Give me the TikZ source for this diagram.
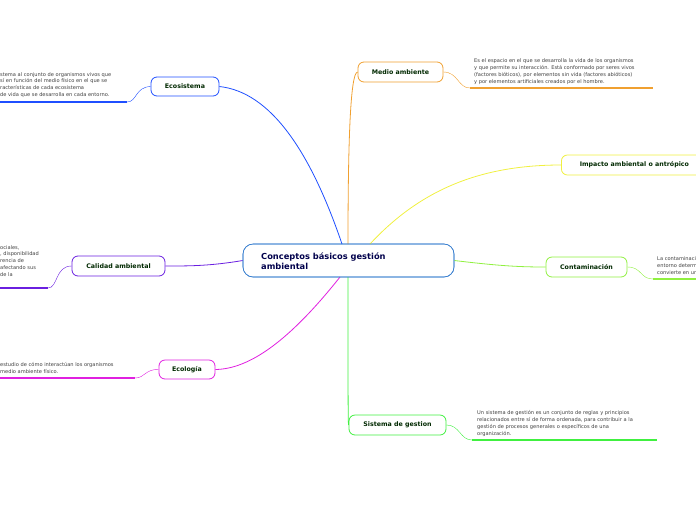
\documentclass[tikz,border=0pt]{standalone}
\usepackage{fontspec}
\setmainfont{DejaVu Sans}
\begin{document}
\begin{tikzpicture}[x=1pt,y=-1pt,
  topic/.style={draw=#1,line width=0.8pt,rounded corners=6pt,fill=white,font=\fontsize{6.3}{7}\selectfont\bfseries,text=black!60!green!40!black,inner sep=0pt},
  desc/.style={anchor=north west,align=left,font=\fontsize{5.1}{6.9}\selectfont,text=black!75,inner sep=0pt},
  conn/.style={draw=#1,line width=0.8pt},
  thin/.style={draw=#1,line width=0.4pt}]
\useasboundingbox (0,0) rectangle (696,520);
\clip (0,0) rectangle (696,520);
\definecolor{cblue}{HTML}{1F4FFF}
\definecolor{cpurp}{HTML}{6A1FE0}
\definecolor{cmag}{HTML}{E020E0}
\definecolor{corg}{HTML}{F0A030}
\definecolor{cyel}{HTML}{F0F040}
\definecolor{cyg}{HTML}{90F040}
\definecolor{cgrn}{HTML}{40F040}
\definecolor{cctr}{HTML}{3A80D0}
% center
\node[draw=cctr,line width=0.6pt,rounded corners=10pt,minimum width=211pt,minimum height=33pt,fill=white,inner sep=0pt] (c) at (348.5,260.5) {};
\node[anchor=west,align=left,font=\fontsize{8.3}{10}\selectfont\bfseries,text=blue!30!black,inner sep=0pt] (ct) at (261,261) {Conceptos básicos gestión\\ambiental};
% topics
\node[topic=cblue,minimum width=68pt,minimum height=19pt] (eco) at (185,86.5) {Ecosistema};
\node[topic=cpurp,minimum width=93pt,minimum height=20pt] (cal) at (118.5,266) {Calidad ambiental};
\node[topic=cmag,minimum width=56pt,minimum height=19pt] (ecl) at (187,369.5) {Ecología};
\node[topic=corg,minimum width=85pt,minimum height=20pt] (med) at (400.5,72) {Medio ambiente};
\node[topic=cyel,minimum width=150pt,minimum height=20pt,anchor=west] (imp) at (561,165) {\hspace*{-4pt}Impacto ambiental o antrópico\hfill};
\node[topic=cyg,minimum width=81pt,minimum height=20pt] (con) at (586.5,267) {Contaminación};
\node[topic=cgrn,minimum width=97pt,minimum height=20pt] (sis) at (397.5,425) {Sistema de gestion};
% main connectors
\draw[conn=cblue] (342,244) .. controls (310,150) and (270,92) .. (eco.east);
\draw[conn=corg] (348,244) .. controls (348,150) and (350,72) .. (med.west);
\draw[conn=cyel] (370,244) .. controls (420,190) and (480,165) .. (imp.west);
\draw[conn=cyg] (c.east) .. controls (500,266) and (520,267) .. (con.west);
\draw[conn=cgrn] (348,277) .. controls (348,380) and (348,425) .. (sis.west);
\draw[conn=cpurp] (c.west) .. controls (210,266) and (190,266) .. (cal.east);
\draw[conn=cmag] (340,277) .. controls (290,340) and (250,369) .. (ecl.east);
\node[draw=cctr,line width=0.6pt,rounded corners=10pt,minimum width=211pt,minimum height=33pt,inner sep=0pt] (c2) at (348.5,260.5) {};
% descriptions
\coordinate (e1) at (127,102);
\draw[thin=cblue] (eco.west) .. controls (135,87) and (137,102) .. (e1);
\draw[line width=1.4pt,cblue] (0,102) -- (e1);
\node[desc] (et) at (0,72) {stema al conjunto de organismos vivos que\\ sí en función del medio físico en el que se\\racterísticas de cada ecosistema\\ de vida que se desarrolla en cada entorno.};
\coordinate (m1) at (470,88);
\draw[thin=corg] (med.east) .. controls (458,72) and (458,88) .. (m1);
\draw[line width=1.4pt,corg] (m1) -- (653,88);
\node[desc] (mt) at (474,58.5) {Es el espacio en el que se desarrolla la vida de los organismos\\y que permite su interacción. Está conformado por seres vivos\\(factores bióticos), por elementos sin vida (factores abióticos)\\y por elementos artificiales creados por el hombre.};
\coordinate (k1) at (653,279);
\draw[thin=cyg] (con.east) .. controls (642,267) and (640,279) .. (k1);
\draw[line width=1.4pt,cyg] (k1) -- (696,279);
\node[desc] (kt) at (657,256.5) {La contaminación\\entorno determinado\\convierte en un};
\coordinate (s1) at (472,440);
\draw[thin=cgrn] (sis.east) .. controls (460,425) and (460,440) .. (s1);
\draw[line width=1.4pt,cgrn] (s1) -- (657,440);
\node[desc] (st) at (477,410.5) {Un sistema de gestión es un conjunto de reglas y principios\\relacionados entre sí de forma ordenada, para contribuir a la\\gestión de procesos generales o específicos de una\\organización.};
\coordinate (q1) at (48,288);
\draw[thin=cpurp] (cal.west) .. controls (55,266) and (58,288) .. (q1);
\draw[line width=1.4pt,cpurp] (0,288) -- (q1);
\node[desc] (qt) at (0,245) {ociales,\\, disponibilidad\\rencia de\\afectando sus\\de la};
\coordinate (g1) at (135,378);
\draw[thin=cmag] (ecl.west) .. controls (145,369) and (145,378) .. (g1);
\draw[line width=1.4pt,cmag] (0,378) -- (g1);
\node[desc] (gt) at (0,362) {estudio de cómo interactúan los organismos\\ medio ambiente físico.};
\end{tikzpicture}
\end{document}
